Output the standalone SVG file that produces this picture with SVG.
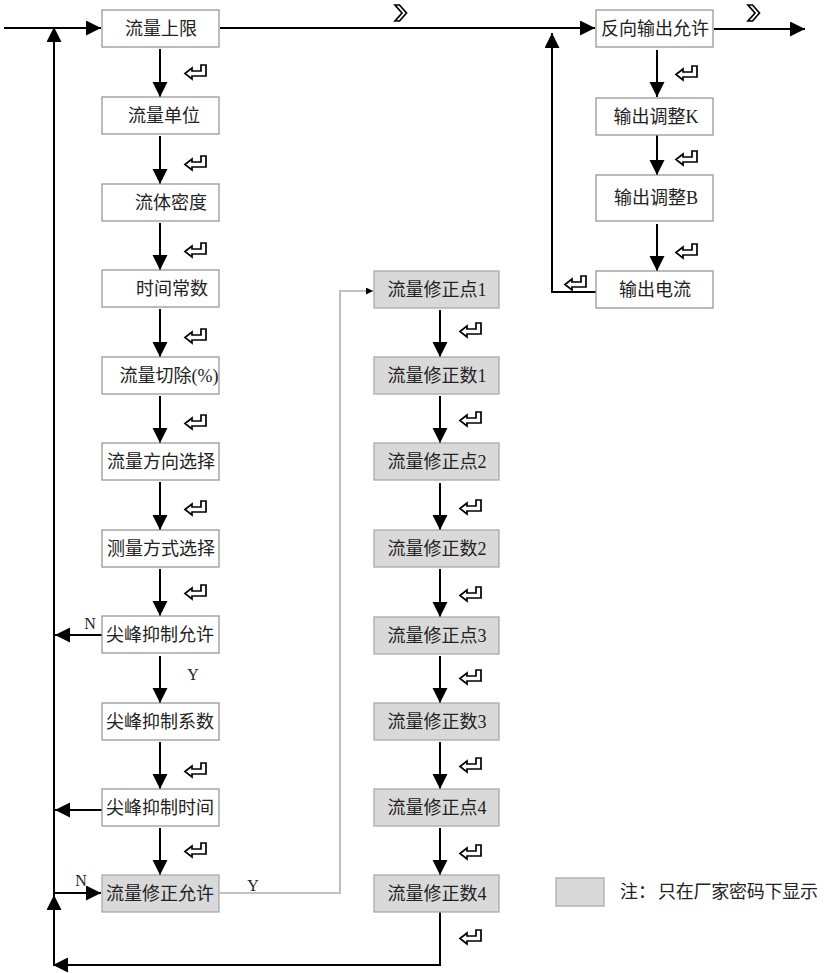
<svg xmlns="http://www.w3.org/2000/svg" width="825" height="973" viewBox="0 0 825 973">
<style>
.box{fill:#fff;stroke:#999;stroke-width:1.3}
.gbox{fill:#d9d9d9;stroke:#aaa;stroke-width:1.3}
.t{font-family:"Liberation Serif","Noto Sans CJK SC",serif;font-size:18px;fill:#222;text-anchor:middle}
.lbl{font-family:"Liberation Serif","Noto Sans CJK SC",serif;font-size:16px;fill:#222;text-anchor:middle}
.ln{fill:none;stroke:#000;stroke-width:2}
.gl{fill:none;stroke:#b0b0b0;stroke-width:1.6}
.ic{fill:#fff;stroke:#000;stroke-width:1.7;stroke-linejoin:miter}
</style>
<defs>
<marker id="ah" markerUnits="userSpaceOnUse" markerWidth="16" markerHeight="16" refX="15" refY="7.5" orient="auto">
<path d="M0,0 L15,7.5 L0,15 Z" fill="#000"/>
</marker>
<marker id="sah" markerUnits="userSpaceOnUse" markerWidth="8" markerHeight="8" refX="7" refY="3.5" orient="auto">
<path d="M0,0 L7,3.5 L0,7 Z" fill="#000"/>
</marker>
<path id="enter" class="ic" d="M0,8.5 L7,3 L7,6 L16,6 L16,0 L21,0 L21,11 L7,11 L7,14 Z"/>
<path id="chev" class="ic" d="M0,0 L4.5,0 L11.5,8 L4.5,16 L0,16 L7,8 Z"/>
</defs>

<g id="connectors">
<path class="ln" d="M4,28 L101,28" marker-end="url(#ah)"/>
<path class="ln" d="M220,28 L595,28" marker-end="url(#ah)"/>
<path class="ln" d="M714,29 L805,29" marker-end="url(#ah)"/>
<path class="ln" d="M54,965 L54,27" marker-end="url(#ah)"/>
<path class="ln" d="M54,965 L54,895" marker-end="url(#ah)"/>
<path class="ln" d="M440,912 L440,965 L53,965" marker-end="url(#ah)"/>
<path class="ln" d="M54,893 L101,893" marker-end="url(#ah)"/>
<path class="ln" d="M102,635 L55,635" marker-end="url(#ah)"/>
<path class="ln" d="M102,810 L55,810" marker-end="url(#ah)"/>
<path class="ln" d="M160,49 L160,97" marker-end="url(#ah)"/>
<path class="ln" d="M160,136 L160,184" marker-end="url(#ah)"/>
<path class="ln" d="M160,223 L160,270" marker-end="url(#ah)"/>
<path class="ln" d="M160,309 L160,357" marker-end="url(#ah)"/>
<path class="ln" d="M160,396 L160,443" marker-end="url(#ah)"/>
<path class="ln" d="M160,482 L160,530" marker-end="url(#ah)"/>
<path class="ln" d="M160,569 L160,616" marker-end="url(#ah)"/>
<path class="ln" d="M160,656 L160,703" marker-end="url(#ah)"/>
<path class="ln" d="M160,742 L160,789" marker-end="url(#ah)"/>
<path class="ln" d="M160,828 L160,875" marker-end="url(#ah)"/>
<path class="gl" d="M219,893 L340,893 L340,291 L373,291" marker-end="url(#sah)"/>
<path class="ln" d="M440,310 L440,357" marker-end="url(#ah)"/>
<path class="ln" d="M440,396 L440,443" marker-end="url(#ah)"/>
<path class="ln" d="M440,483 L440,530" marker-end="url(#ah)"/>
<path class="ln" d="M440,569 L440,617" marker-end="url(#ah)"/>
<path class="ln" d="M440,656 L440,703" marker-end="url(#ah)"/>
<path class="ln" d="M440,742 L440,789" marker-end="url(#ah)"/>
<path class="ln" d="M440,828 L440,875" marker-end="url(#ah)"/>
<path class="ln" d="M657,50 L657,97" marker-end="url(#ah)"/>
<path class="ln" d="M657,135 L657,175" marker-end="url(#ah)"/>
<path class="ln" d="M657,224 L657,271" marker-end="url(#ah)"/>
<path class="ln" d="M596,292 L552,292 L552,33" marker-end="url(#ah)"/>
<use href="#chev" x="395" y="5"/>
<use href="#chev" x="748" y="5"/>
<use href="#enter" x="185" y="65"/>
<use href="#enter" x="185" y="156"/>
<use href="#enter" x="185" y="243"/>
<use href="#enter" x="185" y="329"/>
<use href="#enter" x="185" y="415"/>
<use href="#enter" x="185" y="501"/>
<use href="#enter" x="185" y="585"/>
<use href="#enter" x="185" y="763"/>
<use href="#enter" x="185" y="843"/>
<use href="#enter" x="460" y="323"/>
<use href="#enter" x="460" y="412"/>
<use href="#enter" x="460" y="500"/>
<use href="#enter" x="460" y="587"/>
<use href="#enter" x="460" y="670"/>
<use href="#enter" x="460" y="758"/>
<use href="#enter" x="460" y="845"/>
<use href="#enter" x="460" y="930"/>
<use href="#enter" x="676" y="66"/>
<use href="#enter" x="676" y="151"/>
<use href="#enter" x="676" y="244"/>
<use href="#enter" x="565" y="276"/>
<text class="lbl" x="90" y="629">N</text>
<text class="lbl" x="193" y="680">Y</text>
<text class="lbl" x="81" y="886">N</text>
<text class="lbl" x="253" y="891">Y</text>
</g>

<g id="n1"><rect class="box" x="102" y="10" width="117" height="37"/><text class="t" x="161" y="35">流量上限</text></g>
<g id="n2"><rect class="box" x="102" y="97" width="117" height="37"/><text class="t" x="164" y="122">流量单位</text></g>
<g id="n3"><rect class="box" x="102" y="184" width="117" height="37"/><text class="t" x="171" y="209">流体密度</text></g>
<g id="n4"><rect class="box" x="102" y="270" width="117" height="37"/><text class="t" x="172" y="295">时间常数</text></g>
<g id="n5"><rect class="box" x="102" y="357" width="117" height="37"/><text class="t" x="169" y="382">流量切除(%)</text></g>
<g id="n6"><rect class="box" x="102" y="443" width="117" height="37"/><text class="t" x="161" y="468">流量方向选择</text></g>
<g id="n7"><rect class="box" x="102" y="530" width="117" height="37"/><text class="t" x="161" y="555">测量方式选择</text></g>
<g id="n8"><rect class="box" x="102" y="616" width="117" height="37"/><text class="t" x="160" y="641">尖峰抑制允许</text></g>
<g id="n9"><rect class="box" x="102" y="703" width="117" height="37"/><text class="t" x="160" y="728">尖峰抑制系数</text></g>
<g id="n10"><rect class="box" x="102" y="789" width="117" height="37"/><text class="t" x="160" y="814">尖峰抑制时间</text></g>
<g id="n11"><rect class="gbox" x="102" y="875" width="117" height="37"/><text class="t" x="160" y="900">流量修正允许</text></g>

<g id="m1"><rect class="gbox" x="374" y="271" width="125" height="37"/><text class="t" x="437" y="296">流量修正点1</text></g>
<g id="m2"><rect class="gbox" x="374" y="357" width="125" height="37"/><text class="t" x="437" y="382">流量修正数1</text></g>
<g id="m3"><rect class="gbox" x="374" y="443" width="125" height="37"/><text class="t" x="437" y="468">流量修正点2</text></g>
<g id="m4"><rect class="gbox" x="374" y="530" width="125" height="37"/><text class="t" x="437" y="555">流量修正数2</text></g>
<g id="m5"><rect class="gbox" x="374" y="617" width="125" height="37"/><text class="t" x="437" y="642">流量修正点3</text></g>
<g id="m6"><rect class="gbox" x="374" y="703" width="125" height="37"/><text class="t" x="437" y="728">流量修正数3</text></g>
<g id="m7"><rect class="gbox" x="374" y="789" width="125" height="37"/><text class="t" x="437" y="814">流量修正点4</text></g>
<g id="m8"><rect class="gbox" x="374" y="875" width="125" height="37"/><text class="t" x="437" y="900">流量修正数4</text></g>

<g id="r1"><rect class="box" x="596" y="10" width="117" height="37"/><text class="t" x="655" y="35">反向输出允许</text></g>
<g id="r2"><rect class="box" x="596" y="98" width="117" height="37"/><text class="t" x="656" y="123">输出调整K</text></g>
<g id="r3"><rect class="box" x="596" y="175" width="117" height="46"/><text class="t" x="656" y="204">输出调整B</text></g>
<g id="r4"><rect class="box" x="596" y="271" width="117" height="37"/><text class="t" x="655" y="296">输出电流</text></g>

<g id="legend"><rect class="gbox" x="556" y="878" width="48" height="28"/><text class="t" x="620" y="898" style="text-anchor:start">注：</text><text class="t" x="658" y="898" style="text-anchor:start" textLength="160">只在厂家密码下显示</text></g>
</svg>
